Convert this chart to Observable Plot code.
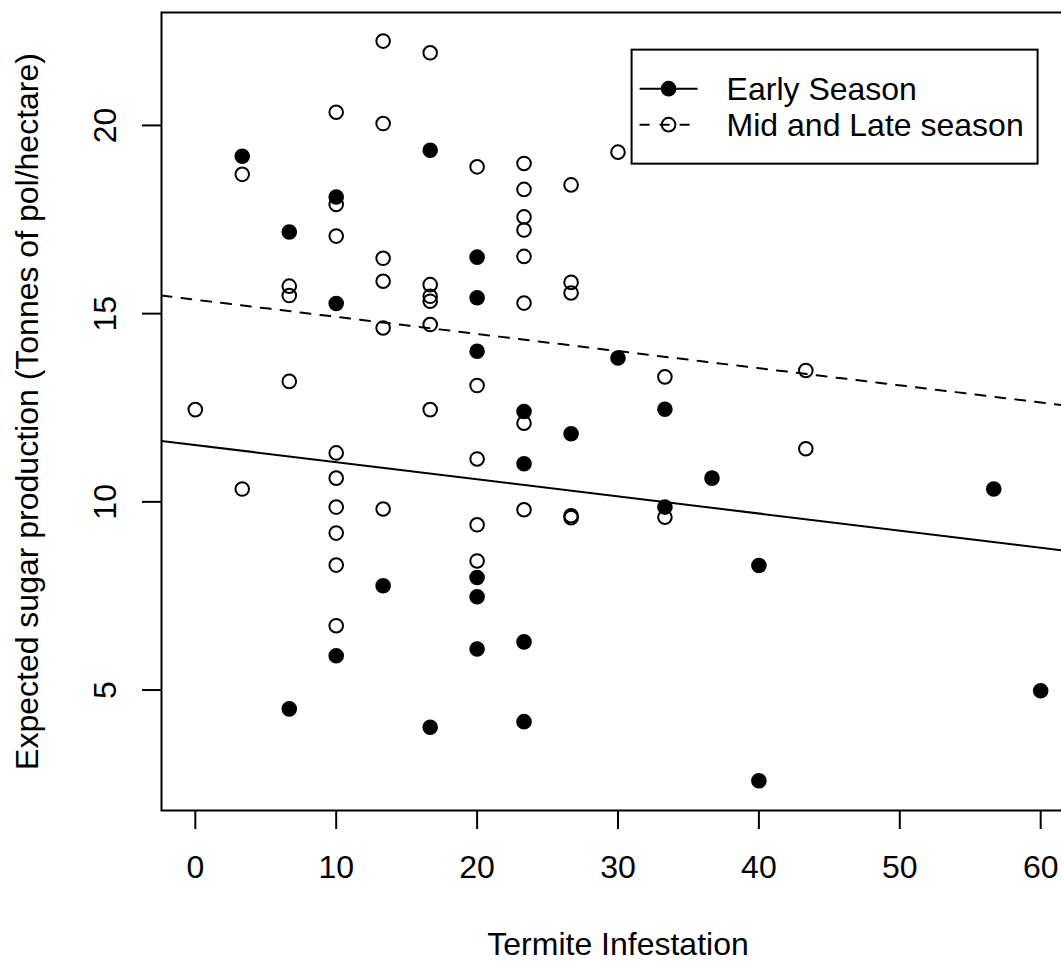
<!DOCTYPE html>
<html>
<head>
<meta charset="utf-8">
<script src="https://cdn.jsdelivr.net/npm/d3@7"></script>
<script src="https://cdn.jsdelivr.net/npm/@observablehq/plot@0.6"></script>
<style>
  html, body { margin: 0; padding: 0; background: #fff; overflow: hidden; width: 1061px; height: 962px; }
  #chart { width: 1100px; }
</style>
</head>
<body>
<div id="chart"></div>
<script>
// ---- Data ----
const earlyX = [3.33, 6.67, 6.67, 10, 10, 10, 13.33, 16.67, 16.67, 20, 20, 20, 20, 20, 20,
                23.33, 23.33, 23.33, 23.33, 26.67, 30, 33.33, 33.33, 36.67, 40, 40, 56.67, 60];
const earlyY = [19.18, 17.17, 4.50, 18.10, 15.27, 5.91, 7.77, 19.34, 4.01, 16.50, 15.42, 14.00, 7.99, 7.48, 6.09,
                12.40, 11.01, 6.28, 4.16, 11.81, 13.82, 12.46, 9.86, 10.63, 8.31, 2.59, 10.34, 4.98];

const lateX = [0, 3.33, 3.33, 6.67, 6.67, 6.67,
               10, 10, 10, 10, 10, 10, 10, 10, 10,
               13.33, 13.33, 13.33, 13.33, 13.33, 13.33,
               16.67, 16.67, 16.67, 16.67, 16.67, 16.67,
               20, 20, 20, 20, 20,
               23.33, 23.33, 23.33, 23.33, 23.33, 23.33, 23.33, 23.33,
               26.67, 26.67, 26.67, 26.67, 26.67,
               30, 33.33, 33.33, 43.33, 43.33];
const lateY = [12.45, 18.70, 10.34, 15.73, 15.48, 13.20,
               20.35, 17.90, 17.06, 11.30, 10.63, 9.86, 9.17, 8.32, 6.71,
               22.24, 20.05, 16.47, 15.86, 14.62, 9.81,
               21.93, 15.77, 15.46, 15.33, 14.71, 12.45,
               18.90, 13.09, 11.14, 9.39, 8.43,
               18.99, 18.30, 17.57, 17.22, 16.52, 15.28, 12.09, 9.79,
               18.42, 15.83, 15.55, 9.63, 9.58,
               19.29, 13.32, 9.59, 13.49, 11.41];

// Fitted parallel lines (common slope)
const seasonLabels = ["Early Season", "Mid and Late season"];
const fitIntercepts = [11.51, 15.37];
const fitSlope = -0.0455;

const xTicks = [0, 10, 20, 30, 40, 50, 60];
const yTicks = [5, 10, 15, 20];
const xTitle = "Termite Infestation";
const yTitle = "Expected sugar production (Tonnes of pol/hectare)";
const xDomain = [-2.4, 62.4];
const yDomain = [1.8, 23.0];
const legendAt = [31, 22]; // legend top-left corner in data units

// ---- Build tables ----
const early = earlyX.map((x, i) => ({x, y: earlyY[i]}));
const late = lateX.map((x, i) => ({x, y: lateY[i]}));
const fitLine = k => xDomain.map(x => ({x, y: fitIntercepts[k] + fitSlope * x}));

const FONT = "'Liberation Sans', Arial, Helvetica, sans-serif";
const FS = 32;

const plot = Plot.plot({
  width: 1100,
  height: 962,
  marginLeft: 161,
  marginRight: 26,
  marginTop: 12,
  marginBottom: 152,
  style: {fontFamily: FONT, fontSize: FS + "px", background: "white", color: "black", overflow: "visible"},
  x: {domain: xDomain},
  y: {domain: yDomain},
  marks: [
    Plot.axisX(xTicks, {tickSize: 19, tickPadding: 26, fontSize: FS, strokeWidth: 2, label: null}),
    Plot.axisY(yTicks, {tickSize: 19, tickPadding: 27, fontSize: FS, strokeWidth: 2, label: null,
                        tickRotate: -90, textAnchor: "middle", lineAnchor: "bottom"}),
    Plot.line(fitLine(0), {x: "x", y: "y", stroke: "black", strokeWidth: 2, clip: true}),
    Plot.line(fitLine(1), {x: "x", y: "y", stroke: "black", strokeWidth: 2, strokeDasharray: "10,10", clip: true}),
    Plot.dot(late, {x: "x", y: "y", r: 6.8, stroke: "black", strokeWidth: 2, fill: "none"}),
    Plot.dot(early, {x: "x", y: "y", r: 6.8, stroke: "black", strokeWidth: 2, fill: "black"}),
    Plot.frame({stroke: "black", strokeWidth: 2}),
    Plot.text([xTitle], {frameAnchor: "bottom", dy: 122, lineAnchor: "top", textAnchor: "middle", fontSize: FS}),
    Plot.text([yTitle], {frameAnchor: "left", dx: -146, rotate: -90, lineAnchor: "top", textAnchor: "middle", fontSize: FS})
  ]
});

document.getElementById("chart").appendChild(plot);

// ---- Legend, positioned with the plot's own scales ----
const sx = plot.scale("x"), sy = plot.scale("y");
const L = sx.apply(legendAt[0]), T = sy.apply(legendAt[1]);
const svg = d3.select(plot);
const g = svg.append("g").attr("font-family", FONT).attr("font-size", FS).attr("text-anchor", "start");
g.append("rect").attr("x", L).attr("y", T).attr("width", 406).attr("height", 114)
  .attr("fill", "white").attr("stroke", "black").attr("stroke-width", 2);
const rows = [
  {label: seasonLabels[0], dash: null, fill: "black"},
  {label: seasonLabels[1], dash: "10,10", fill: "none"}
];
rows.forEach((r, i) => {
  const cy = T + 39 + i * 36;
  g.append("line").attr("x1", L + 8).attr("x2", L + 66).attr("y1", cy).attr("y2", cy)
    .attr("stroke", "black").attr("stroke-width", 2).attr("stroke-dasharray", r.dash);
  g.append("circle").attr("cx", L + 37).attr("cy", cy).attr("r", 6.8)
    .attr("fill", r.fill).attr("stroke", "black").attr("stroke-width", 2);
  g.append("text").attr("x", L + 95).attr("y", cy).attr("dy", "0.35em")
    .attr("text-anchor", "start").attr("fill", "black").text(r.label);
});
</script>
</body>
</html>
